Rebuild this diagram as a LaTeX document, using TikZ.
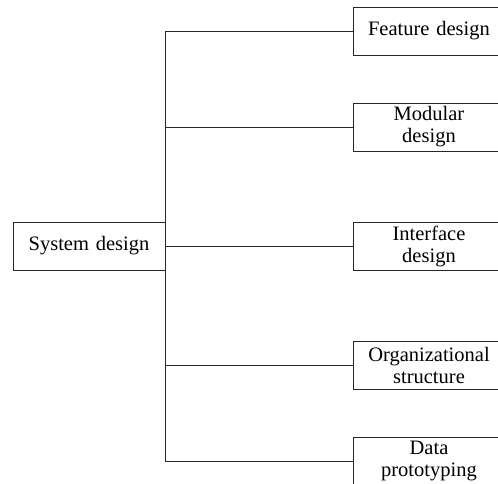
\documentclass[tikz,border=0pt]{standalone}
\usepackage{fontspec}
\setmainfont{Liberation Serif}
\begin{document}
\begin{tikzpicture}[x=1pt,y=-1pt,
  line/.style={draw=black!85, line width=0.9pt},
  box/.style={line, rectangle, inner sep=0pt, minimum height=48pt,
    text width=150pt, align=center,
    font=\fontsize{20.5}{22}\selectfont},
  leafbox/.style={box, minimum width=152pt},
  rootbox/.style={box, minimum width=152pt}]
  \useasboundingbox (0,0) rectangle (498,483);

  % root
  \node[rootbox] (sys) at (89,246) {System design};

  % leaves
  \node[leafbox] (feat) at (429,31)  {Feature design};
  \node[leafbox] (mod)  at (429,127) {Modular\\design};
  \node[leafbox] (intf) at (429,246) {Interface\\design};
  \node[leafbox] (org)  at (429,365) {Organizational\\structure};
  \node[leafbox] (data) at (429,461) {Data\\prototyping};

  % trunk
  \coordinate (ttop) at (sys.east |- feat.west);
  \coordinate (tbot) at (sys.east |- data.west);
  \draw[line] (ttop) -- (tbot);

  % branches
  \foreach \n in {feat,mod,intf,org,data}
    \draw[line] (sys.east |- \n.west) -- (\n.west);
\end{tikzpicture}
\end{document}
